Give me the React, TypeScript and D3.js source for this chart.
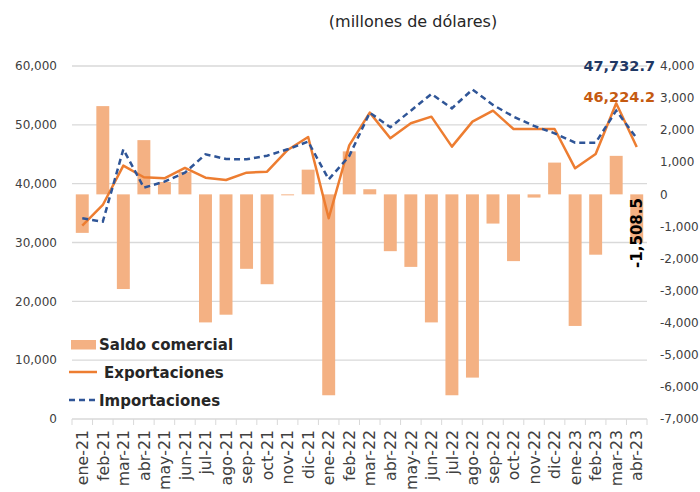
import React from "react";
import * as d3 from "d3";

const categories = ["ene-21","feb-21","mar-21","abr-21","may-21","jun-21","jul-21","ago-21","sep-21","oct-21","nov-21","dic-21","ene-22","feb-22","mar-22","abr-22","may-22","jun-22","jul-22","ago-22","sep-22","oct-22","nov-22","dic-22","ene-23","feb-23","mar-23","abr-23"];
const saldo = [-1200, 2750, -2950, 1690, 385, 700, -3990, -3750, -2320, -2800, -30, 770, -6260, 1340, 160, -1770, -2260, -3990, -6260, -5710, -910, -2080, -100, 990, -4100, -1880, 1200, -1508.5];
const exportaciones = [32860, 36380, 43060, 41090, 40910, 42670, 41020, 40630, 41870, 42040, 45730, 47940, 34120, 46500, 52070, 47710, 50260, 51390, 46290, 50540, 52410, 49290, 49290, 49290, 42610, 45040, 53660, 46224.2];
const importaciones = [34110, 33540, 45840, 39320, 40340, 41870, 44990, 44190, 44140, 44760, 45840, 47140, 40740, 44700, 52070, 49590, 52410, 55250, 52810, 56000, 53380, 51390, 49810, 48560, 46970, 46970, 52410, 47732.7];
const leftTicks = [0, 10000, 20000, 30000, 40000, 50000, 60000];
const rightTicks = [-7000, -6000, -5000, -4000, -3000, -2000, -1000, 0, 1000, 2000, 3000, 4000];

const FONT = "'DejaVu Sans', sans-serif";

export default function App() {
  const x = d3.scaleBand<string>().domain(categories).range([72, 647]).paddingInner(0.37).paddingOuter(0.185);
  const step = (647 - 72) / categories.length;
  const yL = d3.scaleLinear().domain([0, 60000]).range([419, 66]);
  const yR = d3.scaleLinear().domain([-7000, 4000]).range([419, 66]);
  const cx = (c: string) => (x(c) as number) + x.bandwidth() / 2;
  const f = d3.format(",");
  const fmt = (v: number) => f(v).replace("\u2212", "-");

  const lineGen = d3.line<number>().x((_, i) => cx(categories[i])).y((d) => yL(d));
  const last = categories.length - 1;

  return (
    <svg width={700} height={492} style={{ position: "absolute", left: 0, top: 0, background: "#fff" }} fontFamily={FONT}>
      <text x={413} y={27} textAnchor="middle" fontSize={16} fill="#262626">(millones de dólares)</text>
      {leftTicks.map((t) => (
        <g key={"l" + t}>
          <line x1={72} x2={647} y1={yL(t)} y2={yL(t)} stroke="#d9d9d9" strokeWidth={1.3} />
          <text x={57} y={yL(t)} dy="0.35em" textAnchor="end" fontSize={12} fill="#404040">{fmt(t)}</text>
        </g>
      ))}
      {rightTicks.map((t) => (
        <text key={"r" + t} x={660} y={yR(t)} dy="0.35em" textAnchor="start" fontSize={12} fill="#404040">{fmt(t)}</text>
      ))}
      {d3.range(categories.length + 1).map((i) => (
        <line key={"tk" + i} x1={72 + i * step} x2={72 + i * step} y1={419} y2={425} stroke="#d9d9d9" strokeWidth={1} />
      ))}
      {categories.map((c, i) => (
        <rect key={"b" + c} x={x(c)} width={x.bandwidth()} y={Math.min(yR(0), yR(saldo[i]))} height={Math.abs(yR(saldo[i]) - yR(0))} fill="#F4B183" />
      ))}
      <path d={lineGen(exportaciones) || ""} fill="none" stroke="#ED7D31" strokeWidth={2.5} strokeLinejoin="round" />
      <path d={lineGen(importaciones) || ""} fill="none" stroke="#2F5597" strokeWidth={2.5} strokeDasharray="6,4" />
      {categories.map((c) => (
        <text key={"x" + c} transform={`translate(${cx(c)},430) rotate(-90)`} dy="0.36em" textAnchor="end" fontSize={15.8} fill="#404040">{c}</text>
      ))}
      <text x={655} y={71} textAnchor="end" fontSize={14.5} fontWeight="bold" fill="#1F3864">{fmt(importaciones[last])}</text>
      <text x={655} y={102} textAnchor="end" fontSize={14.5} fontWeight="bold" fill="#C55A11">{fmt(exportaciones[last])}</text>
      <text transform={`translate(${cx(categories[last])},233) rotate(-90)`} dy="0.36em" textAnchor="middle" fontSize={15} fontWeight="bold" fill="#000">{fmt(saldo[last])}</text>
      <rect x={71} y={340} width={25} height={9.5} fill="#F4B183" />
      <text x={99} y={350} fontSize={15} fontWeight="bold" fill="#262626">Saldo comercial</text>
      <line x1={69} x2={97} y1={372} y2={372} stroke="#ED7D31" strokeWidth={2.5} />
      <text x={104} y={378} fontSize={15} fontWeight="bold" fill="#262626">Exportaciones</text>
      <line x1={69} x2={97} y1={400} y2={400} stroke="#2F5597" strokeWidth={2.5} strokeDasharray="6,4" />
      <text x={99} y={406} fontSize={15} fontWeight="bold" fill="#262626">Importaciones</text>
    </svg>
  );
}
